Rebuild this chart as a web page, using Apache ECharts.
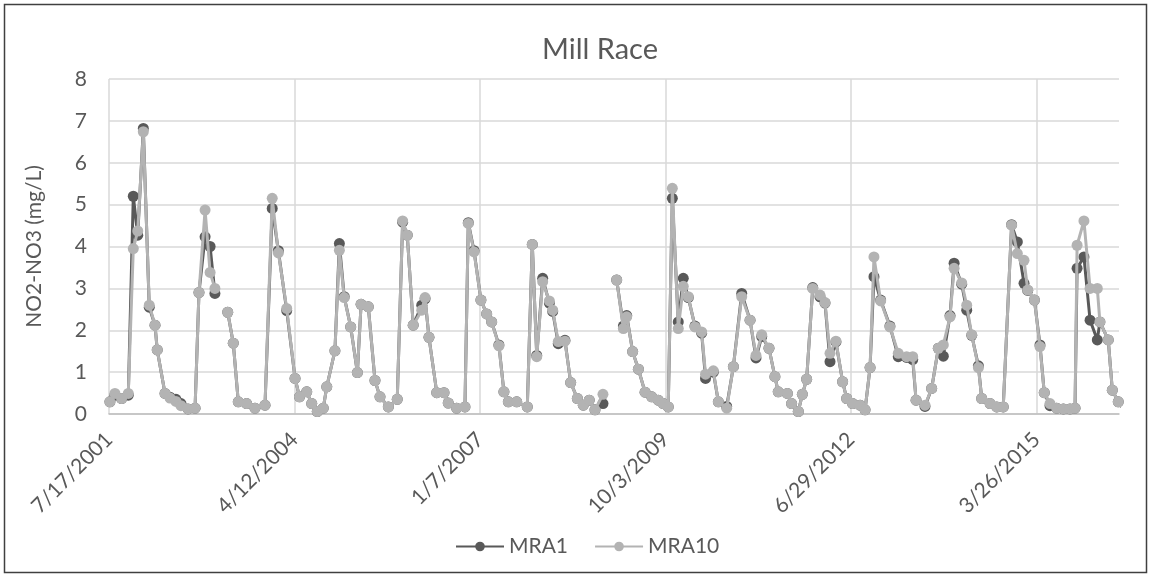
<!DOCTYPE html>
<html>
<head>
<meta charset="utf-8">
<script src="https://cdn.jsdelivr.net/npm/echarts@6/dist/echarts.min.js"></script>
<style>
html,body{margin:0;padding:0;background:#fff;}
#chart{width:1151px;height:577px;}
</style>
</head>
<body>
<div id="chart"></div>
<script>
const dates = [
'2001-07-22','2001-08-18','2001-09-23','2001-10-29','2001-11-25','2001-12-19','2002-01-18','2002-02-19','2002-03-22','2002-04-03',
'2002-05-15','2002-06-11','2002-07-13','2002-08-09','2002-09-16','2002-10-24','2002-11-14','2002-12-17','2003-01-13','2003-02-08',
'2003-03-15',
'2003-04-18','2003-05-18','2003-06-14','2003-07-29','2003-09-12','2003-11-05','2003-12-14','2004-01-16','2004-03-01','2004-04-15',
'2004-05-09','2004-06-17','2004-07-14','2004-08-13','2004-09-14','2004-10-03','2004-11-16','2004-12-10','2005-01-05','2005-02-09',
'2005-03-17','2005-04-06','2005-05-15','2005-06-20','2005-07-17','2005-08-31','2005-10-18','2005-11-16','2005-12-11','2006-01-12',
'2006-02-27','2006-03-17','2006-04-07','2006-05-19','2006-06-27','2006-07-20','2006-09-03','2006-10-18','2006-11-05','2006-12-06',
'2007-01-12','2007-02-12','2007-03-11','2007-04-19','2007-05-16','2007-06-09','2007-07-24','2007-09-19','2007-10-16','2007-11-09',
'2007-12-11','2008-01-16','2008-02-03','2008-03-04','2008-04-09','2008-05-10','2008-06-15','2008-07-17','2008-08-18','2008-09-18',
'2008-10-31',
'2008-12-05',
'2009-01-13','2009-02-18','2009-03-08','2009-04-09','2009-05-10','2009-06-15','2009-07-21','2009-08-25','2009-09-21','2009-10-18',
'2009-11-09','2009-12-11','2010-01-07','2010-02-03','2010-03-11','2010-04-16','2010-05-07','2010-06-18','2010-07-15','2010-08-29',
'2010-10-04','2010-11-18','2011-01-02','2011-02-03','2011-03-06','2011-04-14','2011-05-16','2011-06-03','2011-07-22','2011-08-14',
'2011-09-19','2011-10-11','2011-11-03','2011-12-06','2012-01-14','2012-02-10','2012-03-08','2012-04-09','2012-05-15','2012-06-06',
'2012-07-08','2012-08-17','2012-09-13','2012-10-10','2012-10-31','2012-12-06','2013-01-25','2013-03-11','2013-04-25','2013-05-28',
'2013-06-15','2013-08-02','2013-09-07','2013-10-13','2013-11-09','2013-12-15','2014-01-06','2014-02-16','2014-03-15','2014-04-11',
'2014-05-17','2014-06-04','2014-07-19','2014-08-24','2014-09-28','2014-11-12','2014-12-13','2015-01-18','2015-02-07','2015-03-15',
'2015-04-14','2015-05-07','2015-06-07','2015-07-13','2015-08-18','2015-09-23','2015-10-20','2015-10-31','2015-12-07','2016-01-09',
'2016-02-17','2016-03-02','2016-04-16','2016-05-08','2016-06-09','2016-07-10'
];
const mra10 = [
0.29,0.49,0.37,0.49,3.95,4.37,6.74,2.60,2.12,1.53,
0.49,0.38,0.30,0.20,0.12,0.14,2.90,4.87,3.38,3.00,
null,
2.43,1.69,0.29,0.25,0.14,0.21,5.15,3.85,2.52,0.85,
0.41,0.53,0.25,0.06,0.14,0.65,1.51,3.91,2.78,2.08,
0.99,2.62,2.56,0.80,0.41,0.17,0.35,4.61,4.27,2.12,
2.48,2.78,1.83,0.51,0.51,0.26,0.14,0.17,4.55,3.87,
2.72,2.39,2.20,1.63,0.53,0.29,0.29,0.17,4.05,1.37,
3.16,2.70,2.48,1.73,1.74,0.75,0.37,0.21,0.33,0.10,
0.47,
null,
3.20,2.04,2.32,1.49,1.07,0.52,0.41,0.33,0.25,0.17,
5.39,2.04,3.05,2.80,2.08,1.96,0.95,1.03,0.29,0.14,
1.13,2.80,2.24,1.40,1.89,1.57,0.89,0.53,0.49,0.25,
0.06,0.47,0.83,3.00,2.84,2.66,1.45,1.74,0.77,0.37,
0.25,0.21,0.10,1.11,3.75,2.70,2.08,1.45,1.37,1.37,
0.33,0.21,0.61,1.57,1.65,2.32,3.48,3.13,2.60,1.89,
1.11,0.37,0.25,0.17,0.17,4.51,3.83,3.67,2.96,2.72,
1.61,0.51,0.25,0.14,0.12,0.12,0.14,4.03,4.61,3.00,
3.00,2.20,1.77,0.57,0.29,0.10
];
const mra1 = [
0.29,0.45,0.37,0.45,5.20,4.27,6.82,2.55,2.12,1.53,
0.49,0.40,0.35,0.25,0.12,0.14,2.90,4.23,4.00,2.88,
null,
2.43,1.69,0.29,0.25,0.14,0.21,4.91,3.90,2.47,0.85,
0.41,0.53,0.25,0.06,0.14,0.65,1.51,4.07,2.80,2.08,
0.99,2.62,2.56,0.80,0.41,0.17,0.35,4.58,4.27,2.12,
2.60,2.75,1.83,0.51,0.51,0.26,0.14,0.17,4.57,3.90,
2.72,2.39,2.20,1.65,0.53,0.29,0.29,0.17,4.05,1.40,
3.24,2.65,2.45,1.68,1.76,0.75,0.37,0.21,0.33,0.10,
0.25,
null,
3.20,2.10,2.35,1.49,1.07,0.52,0.41,0.33,0.25,0.17,
5.15,2.20,3.24,2.78,2.10,1.93,0.85,1.00,0.29,0.18,
1.13,2.88,2.24,1.34,1.85,1.57,0.89,0.53,0.49,0.25,
0.06,0.47,0.83,3.02,2.80,2.65,1.25,1.72,0.77,0.37,
0.25,0.21,0.10,1.11,3.28,2.72,2.10,1.37,1.35,1.30,
0.33,0.18,0.61,1.57,1.38,2.35,3.60,3.10,2.48,1.88,
1.15,0.37,0.25,0.17,0.17,4.52,4.11,3.12,2.95,2.72,
1.65,0.51,0.20,0.14,0.12,0.12,0.14,3.48,3.75,2.24,
1.77,2.20,1.77,0.57,0.29,0.10
];
const seriesNames = ['MRA1', 'MRA10'];
const axisStart = '2001-07-17';
const axisEnd = '2016-06-13';
const tickDays = 1000;
const yTicks = [0, 8, 1]; // min, max, step

function ts(s) { const p = s.split('-').map(Number); return Date.UTC(p[0], p[1] - 1, p[2]); }
const DAY = 86400000;
const xMin = ts(axisStart), xMax = ts(axisEnd), xStep = tickDays * DAY;
function pairs(vals) { return dates.map((d, i) => [ts(d), vals[i] == null ? '-' : vals[i]]); }
function fmt(v) {
  if (Math.round(v - xMin) % xStep !== 0) return '';
  const d = new Date(v);
  return (d.getUTCMonth() + 1) + '/' + d.getUTCDate() + '/' + d.getUTCFullYear();
}

const FONT = 'Lato';
const TXT = '#595959';
const chart = echarts.init(document.getElementById('chart'), null, {renderer: 'canvas'});
chart.setOption({
  animation: false,
  backgroundColor: '#fff',
  textStyle: {fontFamily: FONT},
  title: {
    text: 'Mill Race', left: 595, top: 30, textAlign: 'center',
    textStyle: {fontFamily: FONT, fontSize: 29, fontWeight: 'normal', color: TXT}
  },
  graphic: [{
    type: 'rect', shape: {x: 4.5, y: 4.5, width: 1142, height: 568},
    style: {fill: 'none', stroke: '#404040', lineWidth: 1.5}, silent: true, z: 100
  }],
  legend: {
    data: seriesNames, left: 450, top: 531, itemWidth: 48, itemHeight: 12, itemGap: 26,
    textStyle: {fontFamily: FONT, fontSize: 21, color: TXT}
  },
  grid: {left: 109, right: 32, top: 79, bottom: 163, containLabel: false},
  xAxis: {
    type: 'value', min: xMin, max: xMax, interval: xStep,
    axisLine: {show: true, lineStyle: {color: '#bfbfbf', width: 1.5}},
    axisTick: {show: false},
    splitLine: {show: true, showMinLine: true, showMaxLine: false, lineStyle: {color: '#d9d9d9', width: 1.5}},
    axisLabel: {rotate: 45, margin: 22, formatter: fmt, showMaxLabel: false,
      fontFamily: FONT, fontSize: 21, color: TXT}
  },
  yAxis: {
    type: 'value', min: yTicks[0], max: yTicks[1], interval: yTicks[2],
    name: 'NO2-NO3 (mg/L)', nameLocation: 'middle', nameGap: 64,
    nameTextStyle: {fontFamily: FONT, fontSize: 21, color: TXT},
    axisLine: {show: false}, axisTick: {show: false},
    splitLine: {lineStyle: {color: '#d9d9d9', width: 1.5}},
    axisLabel: {margin: 22, fontFamily: FONT, fontSize: 21, color: TXT}
  },
  series: [
    {name: seriesNames[0], type: 'line', data: pairs(mra1), symbol: 'circle', symbolSize: 11,
      showAllSymbol: true, connectNulls: false, clip: true,
      itemStyle: {color: '#595959'}, lineStyle: {color: '#595959', width: 3}, z: 2},
    {name: seriesNames[1], type: 'line', data: pairs(mra10), symbol: 'circle', symbolSize: 11,
      showAllSymbol: true, connectNulls: false, clip: true,
      itemStyle: {color: '#b3b3b3'}, lineStyle: {color: '#b3b3b3', width: 3}, z: 3}
  ]
});
</script>
</body>
</html>
